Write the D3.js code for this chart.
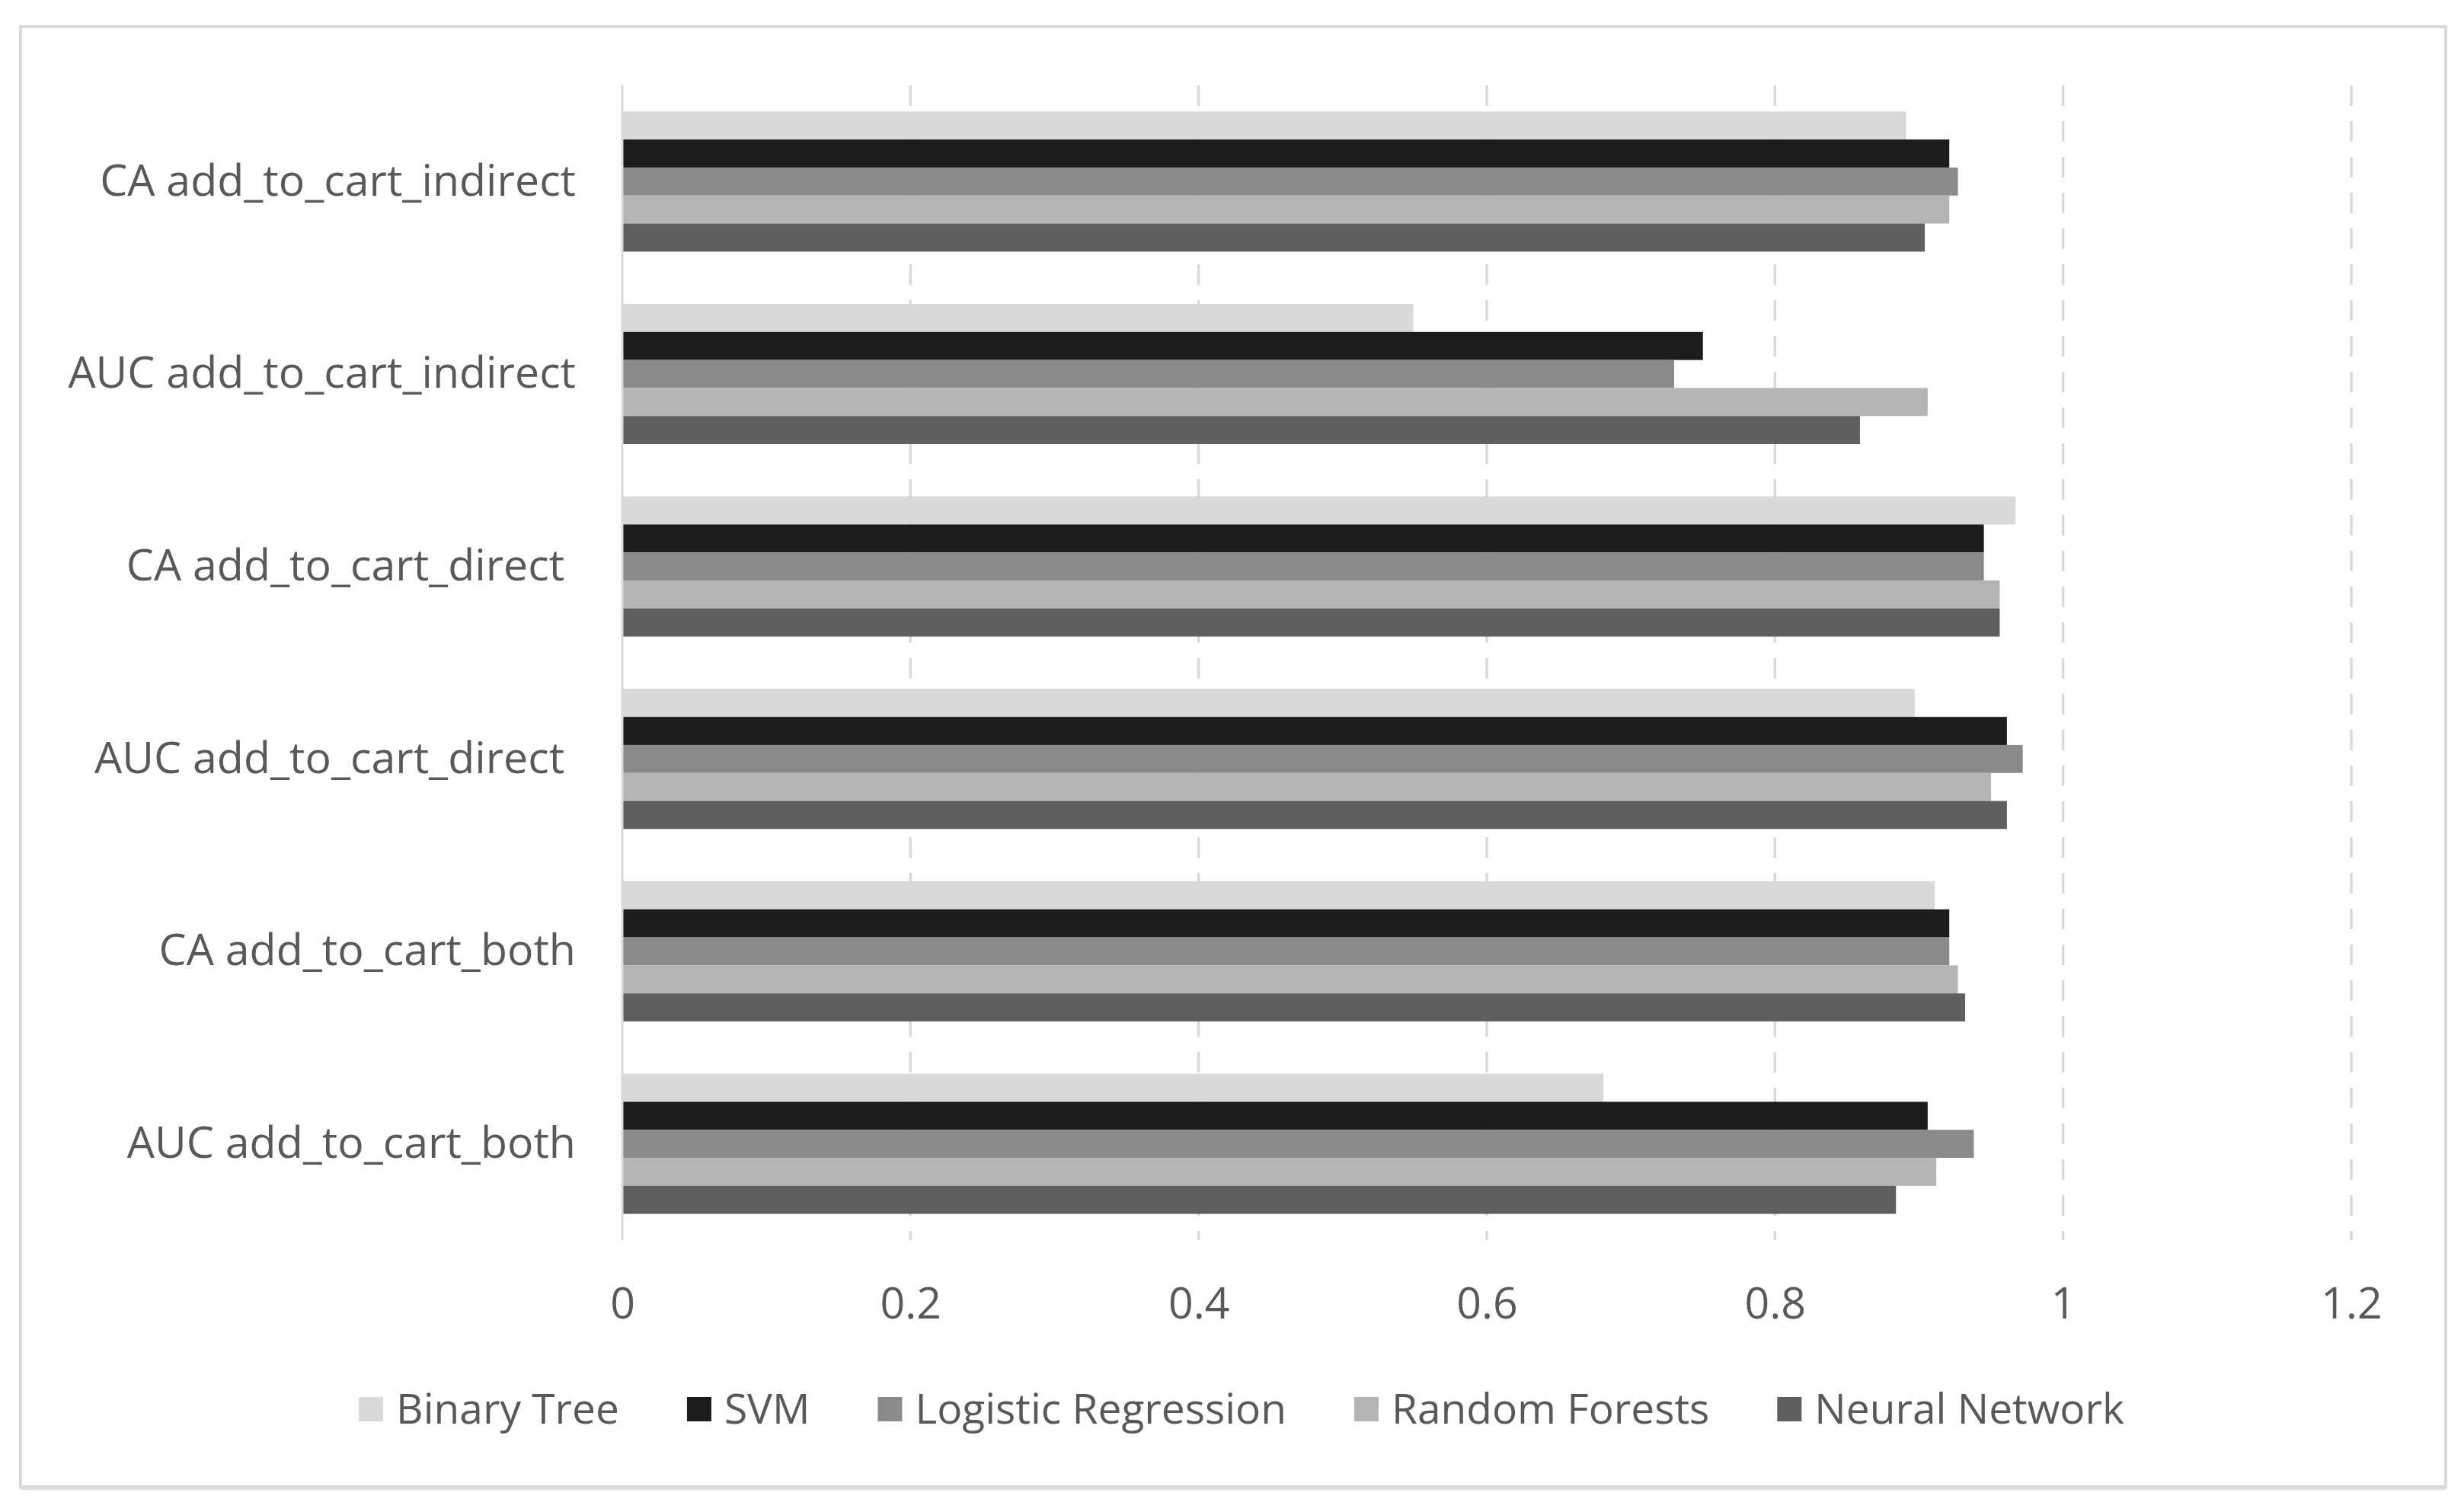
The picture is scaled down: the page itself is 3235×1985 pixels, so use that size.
<!DOCTYPE html>
<html>
<head>
<meta charset="utf-8">
<script src="https://cdn.jsdelivr.net/npm/d3@7"></script>
<style>
  html, body { margin: 0; padding: 0; background: #fff; }
  text { white-space: pre; }
</style>
</head>
<body>
<div class="vis-bars"></div>
<script>
// categories, top to bottom as in the picture
const categories = [
    "CA add_to_cart_indirect",
    "AUC add_to_cart_indirect",
    "CA add_to_cart_direct ",
    "AUC add_to_cart_direct ",
    "CA add_to_cart_both",
    "AUC add_to_cart_both"
];
const seriesNames = ["Binary Tree", "SVM", "Logistic Regression", "Random Forests", "Neural Network"];
const seriesColors = ["#d9d9d9", "#1c1c1c", "#8a8a8a", "#b4b4b4", "#5f5f5f"];

// one array per model, same order as categories
const binaryTree = [0.891, 0.549, 0.967, 0.897, 0.911, 0.681];
const svm        = [0.921, 0.750, 0.945, 0.961, 0.921, 0.906];
const logReg     = [0.927, 0.730, 0.945, 0.972, 0.921, 0.938];
const randForest = [0.921, 0.906, 0.956, 0.950, 0.927, 0.912];
const neuralNet  = [0.904, 0.859, 0.956, 0.961, 0.932, 0.884];

const tickValues = [0, 0.2, 0.4, 0.6, 0.8, 1, 1.2];

const draw = () => {
    const W = 3235, H = 1985;
    const textColor = "#595959";
    const fontFamily = "'Liberation Sans Narrow', 'Open Sans', 'Liberation Sans', sans-serif";

    const series = [binaryTree, svm, logReg, randForest, neuralNet];
    const rows = categories.map((c, i) => ({
        cat: c,
        values: series.map((s, j) => ({ key: seriesNames[j], value: s[i], color: seriesColors[j] }))
    }));

    const svg = d3.select(".vis-bars")
        .append("svg")
        .attr("width", W)
        .attr("height", H);

    // chart frame
    svg.append("rect")
        .attr("x", 27).attr("y", 35)
        .attr("width", 3184).attr("height", 1917)
        .attr("fill", "#fff")
        .attr("stroke", "#d9d9d9")
        .attr("stroke-width", 4);
    svg.append("line")
        .attr("x1", 27).attr("x2", 3211)
        .attr("y1", 1954).attr("y2", 1954)
        .attr("stroke", "#dcdcdc")
        .attr("stroke-width", 4);

    // measure text at 60px, used to pick sizes that match the picture's widths
    const measure = (str) => {
        const t = svg.append("text")
            .style("font-family", fontFamily)
            .style("font-size", "60px")
            .text(str);
        const len = t.node().getComputedTextLength();
        t.remove();
        return len;
    };
    const fontSize = 60 * 625 / measure("CA add_to_cart_indirect");
    const legendFont = 60 * 1717 / d3.sum(seriesNames, measure);

    const left = 817, right = 3087, top = 112, bottom = 1628;

    let x = d3.scaleLinear()
        .domain([0, 1.2])
        .range([left, right]);

    let y = d3.scaleBand()
        .domain(categories)
        .range([top, bottom])
        .paddingInner(0.272)
        .paddingOuter(0.136);

    let ySub = d3.scaleBand()
        .domain(seriesNames)
        .range([0, y.bandwidth()]);

    // gridlines
    svg.append("g")
        .selectAll("line")
        .data(tickValues.filter(d => d > 0))
        .enter()
        .append("line")
            .attr("x1", d => x(d)).attr("x2", d => x(d))
            .attr("y1", top).attr("y2", bottom)
            .attr("stroke", "#d9d9d9")
            .attr("stroke-width", 3.5)
            .attr("stroke-dasharray", "27,20");

    // bars
    svg.append("g")
        .selectAll("g")
        .data(rows)
        .enter()
        .append("g")
            .attr("transform", d => "translate(0," + y(d.cat) + ")")
        .selectAll("rect")
        .data(d => d.values)
        .enter()
        .append("rect")
            .attr("x", x(0))
            .attr("y", d => ySub(d.key))
            .attr("width", d => x(d.value) - x(0))
            .attr("height", ySub.bandwidth())
            .attr("fill", d => d.color);

    // zero axis line
    svg.append("line")
        .attr("x1", x(0)).attr("x2", x(0))
        .attr("y1", top).attr("y2", bottom)
        .attr("stroke", "#d9d9d9")
        .attr("stroke-width", 3);

    // x axis labels
    const xAxis = svg.append("g")
        .attr("transform", "translate(0," + 1690 + ")")
        .call(d3.axisBottom(x).tickValues(tickValues).tickSize(0).tickPadding(0)
            .tickFormat(d => String(+d.toFixed(1))));
    xAxis.select(".domain").remove();
    xAxis.selectAll("text")
        .attr("dy", "0.71em")
        .style("font-family", fontFamily)
        .style("font-size", fontSize + "px")
        .attr("fill", textColor);

    // category labels
    const yAxis = svg.append("g")
        .attr("transform", "translate(756,0)")
        .call(d3.axisLeft(y).tickSize(0).tickPadding(0));
    yAxis.select(".domain").remove();
    yAxis.selectAll("text")
        .style("font-family", fontFamily)
        .style("font-size", fontSize + "px")
        .attr("fill", textColor);

    // legend
    const sw = 32, gapText = 17, gapItem = 89, legendY = 1850, legendCenter = 1630;
    const legend = svg.append("g");
    const items = legend.selectAll("g")
        .data(seriesNames)
        .enter()
        .append("g");
    items.append("text")
        .attr("x", sw + gapText)
        .attr("y", 0)
        .attr("dy", "0.35em")
        .style("font-family", fontFamily)
        .style("font-size", legendFont + "px")
        .attr("fill", textColor)
        .text(d => d);
    items.append("rect")
        .attr("x", 0)
        .attr("y", -sw / 2)
        .attr("width", sw)
        .attr("height", sw)
        .attr("fill", (d, i) => seriesColors[i]);

    let pos = 0;
    const offsets = [];
    items.each(function() {
        offsets.push(pos);
        const len = d3.select(this).select("text").node().getComputedTextLength();
        pos += sw + gapText + len + gapItem;
    });
    const total = pos - gapItem;
    const start = legendCenter - total / 2;
    items.attr("transform", (d, i) => "translate(" + (start + offsets[i]) + "," + legendY + ")");
}

draw();
</script>
</body>
</html>
